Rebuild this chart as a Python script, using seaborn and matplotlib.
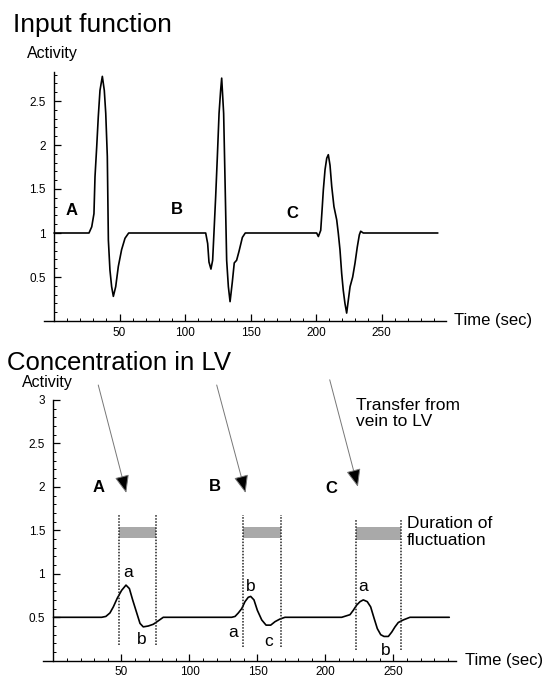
import numpy as np
import pandas as pd
import matplotlib
matplotlib.use("Agg")
import matplotlib.pyplot as plt
from matplotlib.ticker import FixedLocator, FuncFormatter
import seaborn as sns

# ---------------- data ----------------
# Input function (top panel)
t_input = [0, 26.7, 28.8, 30.5, 31.3, 32.6, 33.8, 35.1, 36.9, 38.4, 39.5, 40.7, 41.5, 42.7, 44.0, 45.3, 47.1, 49.1, 51.6, 54.2, 57.0,
           115.8, 117.3, 118.3, 119.8, 121.1, 122.1, 123.4, 124.7, 126.0, 127.2, 128.0, 129.5, 130.5, 131.8, 133.1, 134.4, 136.1, 137.6, 139.4, 141.2, 143.8, 146.0,
           200.5, 201.8, 203.6, 204.8, 205.6, 206.9, 208.2, 209.4, 210.7, 212.0, 213.7, 215.8, 217.0, 218.3, 219.6, 220.8, 222.1, 223.4, 224.7, 226.0, 228.0, 229.8, 231.5, 233.1, 234.1, 236.1, 293]
v_input = [1, 1, 1.07, 1.22, 1.64, 1.98, 2.32, 2.62, 2.78, 2.62, 2.36, 1.87, 0.92, 0.58, 0.39, 0.28, 0.39, 0.62, 0.81, 0.94, 1.0,
           1.0, 0.88, 0.67, 0.59, 0.69, 1.0, 1.41, 1.87, 2.36, 2.62, 2.76, 2.36, 1.64, 0.69, 0.39, 0.22, 0.44, 0.66, 0.69, 0.79, 0.95, 1.0,
           1.0, 0.96, 1.03, 1.30, 1.49, 1.72, 1.85, 1.89, 1.77, 1.53, 1.30, 1.15, 1.0, 0.81, 0.54, 0.35, 0.20, 0.09, 0.24, 0.39, 0.50, 0.66, 0.84, 0.98, 1.02, 1.0, 1.0]

# Concentration in LV (bottom panel)
t_lv = [0, 35.4, 38.5, 41.5, 44.0, 46.9, 50.1, 53.3, 55.8, 58.2, 61.2, 63.6, 66.0, 69.7, 73.4, 77.1, 80.7,
        131.0, 133.5, 135.9, 138.4, 140.8, 143.2, 145.0, 147.4, 149.9, 153.1, 156.3, 159.7, 162.9, 166.5, 170.2,
        211.9, 218.0, 220.4, 222.9, 225.4, 227.8, 230.7, 233.2, 235.7, 238.1, 240.6, 243.0, 246.2, 248.7, 251.1, 253.5, 257.2, 262.1, 291]
v_lv = [0.5, 0.5, 0.51, 0.55, 0.62, 0.72, 0.81, 0.87, 0.83, 0.70, 0.55, 0.43, 0.39, 0.40, 0.42, 0.46, 0.50,
        0.5, 0.51, 0.55, 0.60, 0.68, 0.73, 0.74, 0.70, 0.58, 0.47, 0.41, 0.41, 0.45, 0.48, 0.50,
        0.5, 0.53, 0.58, 0.64, 0.68, 0.70, 0.68, 0.62, 0.49, 0.37, 0.30, 0.28, 0.28, 0.33, 0.39, 0.44, 0.47, 0.50, 0.50]

event_labels = ["A", "B", "C"]
top_label_t = [13.7, 93.5, 181.9]
top_label_v = [1.26, 1.27, 1.22]
bot_label_t = [32.9, 118.5, 204.5]
bot_label_v = [1.99, 2.0, 1.98]

window_start = [48.3, 139.6, 222.4]
window_end = [75.6, 167.0, 255.8]
window_top = [1.68, 1.68, 1.62]
window_bottom = [0.18, 0.16, 0.12]
band_low = [1.41, 1.41, 1.39]
band_high = [1.54, 1.54, 1.54]

arrow_from_t = [32.9, 120.0, 203.1]
arrow_from_v = [3.17, 3.17, 3.23]
arrow_to_t = [53.5, 141.2, 223.8]
arrow_to_v = [1.93, 1.93, 2.0]

point_labels = ["a", "b", "a", "b", "c", "a", "b"]
point_t = [54.8, 65.1, 132.2, 145.1, 158.0, 227.7, 244.5]
point_v = [1.02, 0.24, 0.32, 0.85, 0.22, 0.85, 0.12]

x_major = [50, 100, 150, 200, 250]
y_major_top = [0.5, 1, 1.5, 2, 2.5]
y_major_bot = [0.5, 1, 1.5, 2, 2.5, 3]

# ---------------- style ----------------
sns.set_theme(style="white")
plt.rcParams['font.family'] = ['Liberation Sans', 'DejaVu Sans']
plt.rcParams['axes.linewidth'] = 1.0
plt.rcParams['text.color'] = 'black'

W, H = 550, 680
fig = plt.figure(figsize=(5.5, 6.8), dpi=100)
fig.patch.set_facecolor("white")


def px_axes(left, right, top, bottom):
    return fig.add_axes([left / W, 1 - bottom / H, (right - left) / W, (bottom - top) / H])


# top axes: t=0 at px 54, 1.31 px/s ; v=0 at py 321, 88 px/unit
ax1 = px_axes(54 - 8 * 1.31, 54 + 299 * 1.31, 321 - 2.83 * 88, 321)
ax1.set_xlim(-8, 299)
ax1.set_ylim(0, 2.83)
# bottom axes: t=0 at px 53.5, 1.36 px/s ; v=0 at py 660.8, 87 px/unit
ax2 = px_axes(53.5 - 8 * 1.36, 53.5 + 296 * 1.36, 660.8 - 3.0 * 87, 660.8)
ax2.set_xlim(-8, 296)
ax2.set_ylim(0, 3.0)

fmt = FuncFormatter(lambda v, p: "%g" % v)
for ax, ymaj in [(ax1, y_major_top), (ax2, y_major_bot)]:
    ax.set_facecolor("none")
    for s in ["top", "right"]:
        ax.spines[s].set_visible(False)
    ax.spines["left"].set_position(("data", 0))
    ax.spines["left"].set_color("black")
    ax.spines["bottom"].set_color("black")
    ax.xaxis.set_major_locator(FixedLocator(x_major))
    ax.xaxis.set_minor_locator(FixedLocator(list(range(10, 300, 10))))
    ax.yaxis.set_major_locator(FixedLocator(ymaj))
    ax.yaxis.set_minor_locator(FixedLocator([round(0.1 * i, 1) for i in range(1, int(max(ymaj) * 10) + 4) if 0.1 * i <= ax.get_ylim()[1] + 1e-6]))
    ax.xaxis.set_major_formatter(fmt)
    ax.yaxis.set_major_formatter(fmt)
    ax.tick_params(axis="both", which="major", direction="in", length=5, width=0.9,
                   colors="black", labelsize=8.5, labelcolor="black")
    ax.tick_params(axis="both", which="minor", direction="in", length=2.5, width=0.7, colors="black")
    ax.tick_params(axis="x", which="both", bottom=True, pad=4)
    ax.tick_params(axis="y", which="both", left=True, pad=6)
    ax.grid(False)

df_in = pd.DataFrame({"t": t_input, "v": v_input})
df_lv = pd.DataFrame({"t": t_lv, "v": v_lv})
sns.lineplot(data=df_in, x="t", y="v", ax=ax1, color="black", lw=1.2, sort=False, estimator=None)
sns.lineplot(data=df_lv, x="t", y="v", ax=ax2, color="black", lw=1.2, sort=False, estimator=None)
for ax in (ax1, ax2):
    ax.set_xlabel("")
    ax.set_ylabel("")

# event letters
for lab, t, v in zip(event_labels, top_label_t, top_label_v):
    ax1.text(t, v, lab, fontsize=12, fontweight="bold", ha="center", va="center")
for lab, t, v in zip(event_labels, bot_label_t, bot_label_v):
    ax2.text(t, v, lab, fontsize=12, fontweight="bold", ha="center", va="center")

# windows, bands
for s, e, tp, bt, lo, hi in zip(window_start, window_end, window_top, window_bottom, band_low, band_high):
    ax2.vlines([s, e], bt, tp, colors="#222222", linestyles=(0, (1, 1)), lw=1.1)
    ax2.fill_between([s, e], [lo, lo], [hi, hi], color="#a9a9a9", lw=0)

# arrows
for ft, fv, tt, tv in zip(arrow_from_t, arrow_from_v, arrow_to_t, arrow_to_v):
    ax2.annotate("", xy=(tt, tv), xytext=(ft, fv), annotation_clip=False,
                 arrowprops=dict(arrowstyle="-|>,head_length=1.1,head_width=0.45",
                                 ec="#777777", fc="black", lw=0.7, shrinkA=0, shrinkB=0,
                                 mutation_scale=10))

# point letters
for lab, t, v in zip(point_labels, point_t, point_v):
    ax2.text(t, v, lab, fontsize=12.5, ha="center", va="center")

ax2.text(222.4, 3.02, "Transfer from\nvein to LV", fontsize=12.5, ha="left", va="top", linespacing=1.1)
ax2.text(260, 1.66, "Duration of\nfluctuation", fontsize=12.5, ha="left", va="top", linespacing=1.15)

# axis labels
ax1.text(305, 0, "Time (sec)", fontsize=12, ha="left", va="center", clip_on=False)
ax2.text(302.6, 0, "Time (sec)", fontsize=12, ha="left", va="center", clip_on=False)
fig.text(52 / W, 1 - 58 / H, "Activity", fontsize=11.5, ha="center", va="baseline")
fig.text(47.5 / W, 1 - 387.5 / H, "Activity", fontsize=11.5, ha="center", va="baseline")

# titles
fig.text(13 / W, 1 - 31.7 / H, "Input function", fontsize=19, ha="left", va="baseline")
fig.text(7 / W, 1 - 370 / H, "Concentration in LV", fontsize=18.5, ha="left", va="baseline")

fig.savefig("out.png", dpi=100, facecolor="white")
